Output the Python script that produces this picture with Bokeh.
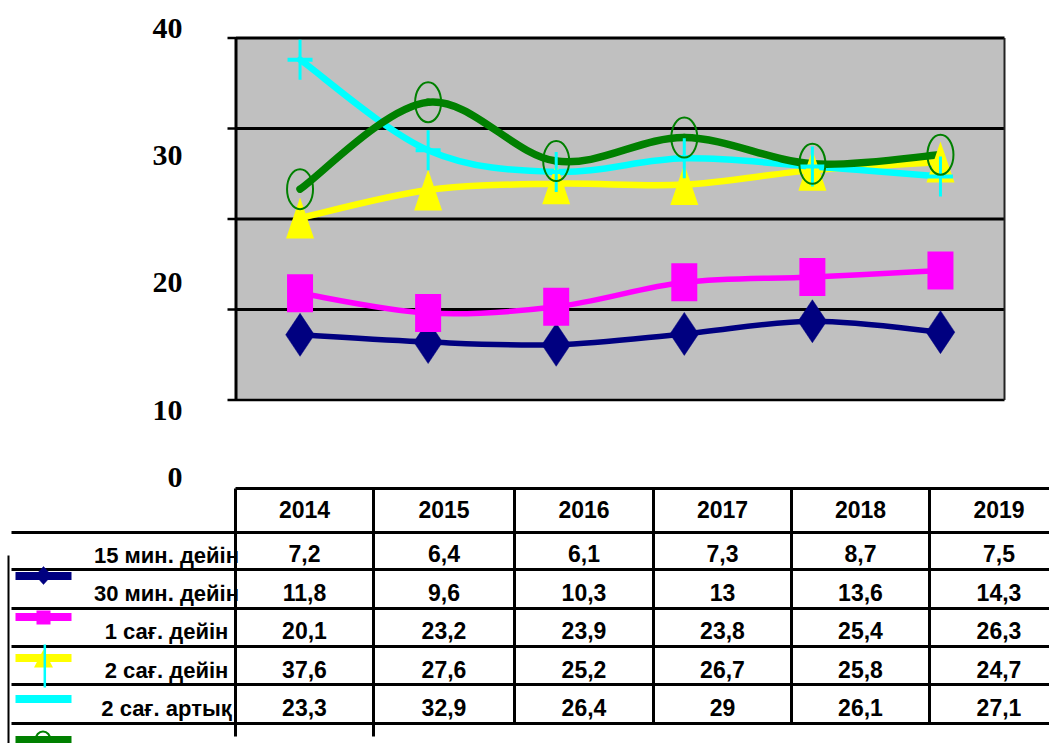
import numpy as np
from bokeh.plotting import figure
from bokeh.models import Range1d
from bokeh.embed import file_html
from bokeh.resources import INLINE
from bokeh.core.properties import value

# ---------------- data ----------------
years = ["2014", "2015", "2016", "2017", "2018", "2019"]
series_names = ["15 мин. дейін", "30 мин. дейін", "1 сағ. дейін", "2 сағ. дейін", "2 сағ. артық"]
s_15min = [7.2, 6.4, 6.1, 7.3, 8.7, 7.5]
s_30min = [11.8, 9.6, 10.3, 13, 13.6, 14.3]
s_1h = [20.1, 23.2, 23.9, 23.8, 25.4, 26.3]
s_2h = [37.6, 27.6, 25.2, 26.7, 25.8, 24.7]
s_2h_plus = [23.3, 32.9, 26.4, 29, 26.1, 27.1]
y_tick_labels = ["40", "30", "20", "10", "0"]
gridline_values = [10, 20, 30, 40]
axis_ticks = [0, 10, 20, 30, 40]
y_max = 40

series = [s_15min, s_30min, s_1h, s_2h, s_2h_plus]
colors = ["#000080", "#FF00FF", "#FFFF00", "#00FFFF", "#008000"]
line_widths = [5.5, 5.5, 6.5, 6.5, 7.5]

# ---------------- layout (screen pixels) ----------------
W, H = 1049, 743
OX, OY = 0, 0
PL, PR, PT, PB = 235.5, 1004.0, 37.5, 399.5
n = len(years)
px_per_c = (PR - PL) / n
px_per_v = (PB - PT) / y_max

p = figure(width=W, height=H,
           x_range=Range1d(OX, OX + W), y_range=Range1d(OY + H, OY),
           x_axis_location=None, y_axis_location=None,
           toolbar_location=None, output_backend="svg",
           min_border=0, outline_line_color=None,
           background_fill_color="white", border_fill_color="white")
for g in p.grid:
    g.visible = False

c_start = -0.5 + (OX - PL) / px_per_c
c_end = -0.5 + (OX + W - PL) / px_per_c
v_start = (PB - (OY + H)) / px_per_v
v_end = (PB - OY) / px_per_v
p.extra_x_ranges = {"cat": Range1d(c_start, c_end)}
p.extra_y_ranges = {"val": Range1d(v_start, v_end)}
R = dict(x_range_name="cat", y_range_name="val")

xs_idx = list(range(n))

# plot area
p.quad(left=[-0.5], right=[n - 0.5], bottom=[0], top=[y_max],
       fill_color="#C0C0C0", line_color=None, **R)
p.segment(x0=[-0.5] * len(gridline_values), x1=[n - 0.5] * len(gridline_values),
          y0=gridline_values, y1=gridline_values, line_color="black", line_width=3, **R)
p.segment(x0=[-0.5], x1=[n - 0.5], y0=[0], y1=[0], line_color="black", line_width=2.5, **R)
p.segment(x0=[n - 0.5], x1=[n - 0.5], y0=[0], y1=[y_max], line_color="#222222", line_width=2, **R)
p.segment(x0=[-0.5], x1=[-0.5], y0=[0], y1=[y_max], line_color="black", line_width=3, **R)
# tick marks (screen x, value y)
p.segment(x0=[227] * len(axis_ticks), x1=[PL] * len(axis_ticks), y0=axis_ticks, y1=axis_ticks,
          line_color="black", line_width=2.5, y_range_name="val")

# y labels (placed as in the reference, not aligned to the grid)
p.text(x=[182] * 5, y=[27.5, 155, 282, 409.5, 477], text=y_tick_labels,
       text_align="right", text_baseline="middle",
       text_font=value("Liberation Serif"), text_font_style="bold",
       text_font_size="30px", text_color="black")


# smooth lines (Excel-like smoothing as bezier segments)
def bezier_parts(vals):
    pts = np.array([[i, v] for i, v in enumerate(vals)], dtype=float)
    out = {k: [] for k in ["x0", "y0", "x1", "y1", "cx0", "cy0", "cx1", "cy1"]}
    for i in range(len(pts) - 1):
        p0 = pts[i - 1] if i > 0 else pts[i]
        p1 = pts[i]
        p2 = pts[i + 1]
        p3 = pts[i + 2] if i + 2 < len(pts) else pts[i + 1]
        c1 = p1 + (p2 - p0) / 6.0
        c2 = p2 - (p3 - p1) / 6.0
        out["x0"].append(p1[0]); out["y0"].append(p1[1])
        out["x1"].append(p2[0]); out["y1"].append(p2[1])
        out["cx0"].append(c1[0]); out["cy0"].append(c1[1])
        out["cx1"].append(c2[0]); out["cy1"].append(c2[1])
    return out


for vals, col, lw in zip(series, colors, line_widths):
    b = bezier_parts(vals)
    p.bezier(line_color=col, line_width=lw, line_cap="round", **b, **R)

# markers
p.scatter(xs_idx, s_15min, marker="diamond", size=43, fill_color=colors[0],
          line_color=colors[0], line_width=0.5, **R)
p.rect(xs_idx, s_30min, width=26, height=38, width_units="screen", height_units="screen",
       fill_color=colors[1], line_color=None, **R)
hw_t = 14.0 / px_per_c
hh_t = 20.5 / px_per_v
p.patches(xs=[[i - hw_t, i + hw_t, i] for i in xs_idx],
          ys=[[v - hh_t, v - hh_t, v + hh_t] for v in s_1h],
          fill_color=colors[2], line_color=None, **R)
p.rect(xs_idx, s_2h, width=25, height=4, width_units="screen", height_units="screen",
       fill_color=colors[3], line_color=None, **R)
p.rect(xs_idx, s_2h, width=3, height=40, width_units="screen", height_units="screen",
       fill_color=colors[3], line_color=None, **R)
p.ellipse(xs_idx, s_2h_plus, width=26, height=40, width_units="screen", height_units="screen",
          fill_color=None, line_color=colors[4], line_width=2, **R)

# ---------------- data table ----------------
col_edges = [235, 373, 514, 653, 791, 929, 1068]
col_centers = [(a + b) / 2 for a, b in zip(col_edges[:-1], col_edges[1:])]
header_mid = 509
value_mids = [553, 591.5, 630, 668.5, 706.5]
label_mids = [555, 593, 631, 669.5, 708]
TF = value("Liberation Sans")

p.text(x=col_centers, y=[header_mid] * n, text=years, text_align="center",
       text_baseline="middle", text_font=TF, text_font_style="bold",
       text_font_size="23px", text_color="black")
for vals, ym in zip(series, value_mids):
    p.text(x=col_centers, y=[ym] * n, text=[str(v).replace(".", ",") for v in vals],
           text_align="center", text_baseline="middle", text_font=TF,
           text_font_style="bold", text_font_size="23px", text_color="black")
p.text(x=[166] * len(series_names), y=label_mids, text=series_names, text_align="center",
       text_baseline="middle", text_font=TF, text_font_style="bold",
       text_font_size="22px", text_color="black")

row_lines = [532, 569, 608, 646, 684, 723]
p.segment(x0=[235], x1=[OX + W], y0=[488], y1=[488], line_color="black", line_width=3)
p.segment(x0=[11] * len(row_lines), x1=[OX + W] * len(row_lines), y0=row_lines, y1=row_lines,
          line_color="black", line_width=3)
p.segment(x0=[235, 373], x1=[235, 373], y0=[488, 488], y1=[736, 736], line_color="black", line_width=3)
p.segment(x0=col_edges[2:6], x1=col_edges[2:6], y0=[488] * 4, y1=[723] * 4,
          line_color="black", line_width=3)
p.segment(x0=[8], x1=[8], y0=[555], y1=[OY + H], line_color="black", line_width=2)

# legend keys
key_y = [575.5, 616.5, 657.5, 698.5, 739.5]
p.segment(x0=[15] * 5, x1=[71] * 5, y0=key_y, y1=key_y, line_color=colors, line_width=8)
p.patches(xs=[[43, 51, 43, 35]], ys=[[566, 575, 584, 575]], fill_color=colors[0], line_color=colors[0], line_width=0.5)
p.rect(x=[43], y=[617], width=14, height=14, fill_color=colors[1], line_color=None)
p.patches(xs=[[33.5, 52.5, 43]], ys=[[667, 667, 649]], fill_color=colors[2], line_color=None)
p.segment(x0=[44.3], x1=[44.3], y0=[644], y1=[687], line_color=colors[3], line_width=2.5)
p.ellipse(x=[42.5], y=[739.5], width=15, height=17, fill_color=None, line_color=colors[4], line_width=2)

open("out.html", "w").write(file_html(p, INLINE))
